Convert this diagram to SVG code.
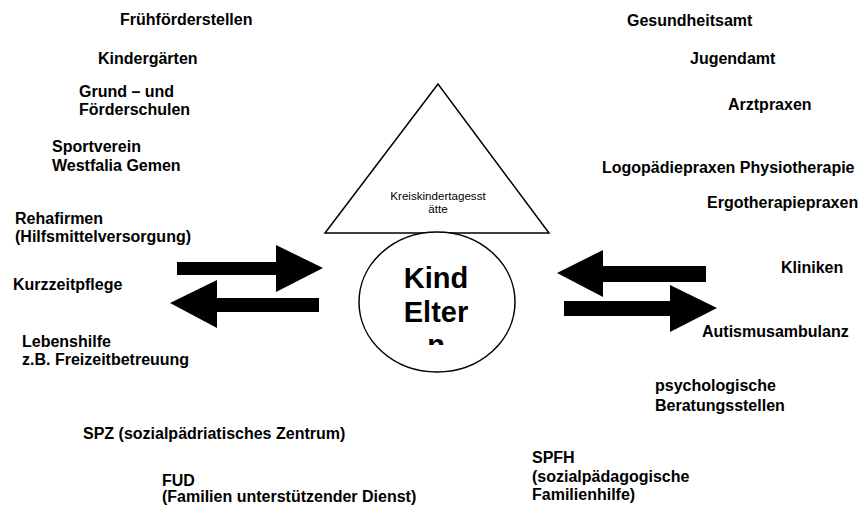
<svg xmlns="http://www.w3.org/2000/svg" width="858" height="509" viewBox="0 0 858 509">
<style>
.t{font-family:"Liberation Sans",Arial,sans-serif;font-weight:bold;font-size:16px;fill:#000}
.s{font-family:"Liberation Sans",Arial,sans-serif;font-size:11.6px;fill:#000}
.big{font-family:"Liberation Sans",Arial,sans-serif;font-weight:bold;font-size:29px;fill:#000}
.shape{fill:#fff;stroke:#000;stroke-width:1.5}
.arr{fill:#000;stroke:none}
</style>
<defs>
<clipPath id="cc"><rect x="360" y="230" width="160" height="115"/></clipPath>
</defs>
<rect width="858" height="509" fill="#fff"/>
<g id="kreiskita">
<polygon class="shape" points="438,84 325,233 549,233"/>
<text class="s" text-anchor="middle" x="438" y="199.5">Kreiskindertagesst</text>
<text class="s" text-anchor="middle" x="438" y="213">ätte</text>
</g>
<g id="kind-eltern">
<ellipse class="shape" cx="437" cy="302" rx="78" ry="70"/>
<g clip-path="url(#cc)">
<text class="big" text-anchor="middle" x="436" y="288.3">Kind</text>
<text class="big" text-anchor="middle" x="436" y="321.7">Elter</text>
<text class="big" text-anchor="middle" x="436" y="355">n</text>
</g>
</g>
<g id="connectors">
<polygon class="arr" points="177,262 276,262 276,245 323,268 276,292 276,275 177,275"/>
<polygon class="arr" points="319,298 217,298 217,280 170,303 217,328 217,312 319,312"/>
<polygon class="arr" points="706,266 603,266 603,250 557,273 603,297 603,282 706,282"/>
<polygon class="arr" points="564,301 670,301 670,285 717,308 670,332 670,316 564,316"/>
</g>
<g id="fruehfoerderstellen"><text class="t" x="120" y="25">Frühförderstellen</text></g>
<g id="kindergaerten"><text class="t" x="98" y="64">Kindergärten</text></g>
<g id="schulen"><text class="t" x="79" y="97">Grund – und</text><text class="t" x="79" y="115">Förderschulen</text></g>
<g id="sportverein"><text class="t" x="52" y="152">Sportverein</text><text class="t" x="52" y="171">Westfalia Gemen</text></g>
<g id="rehafirmen"><text class="t" x="15" y="224">Rehafirmen</text><text class="t" x="15" y="242">(Hilfsmittelversorgung)</text></g>
<g id="kurzzeitpflege"><text class="t" x="13" y="290">Kurzzeitpflege</text></g>
<g id="lebenshilfe"><text class="t" x="22" y="346.5">Lebenshilfe</text><text class="t" x="22" y="365">z.B. Freizeitbetreuung</text></g>
<g id="spz"><text class="t" x="83" y="439">SPZ (sozialpädriatisches Zentrum)</text></g>
<g id="fud"><text class="t" x="162" y="486">FUD</text><text class="t" x="162" y="502">(Familien unterstützender Dienst)</text></g>
<g id="gesundheitsamt"><text class="t" x="627" y="26">Gesundheitsamt</text></g>
<g id="jugendamt"><text class="t" x="690" y="64">Jugendamt</text></g>
<g id="arztpraxen"><text class="t" x="728" y="110">Arztpraxen</text></g>
<g id="logopaedie"><text class="t" x="602" y="173">Logopädiepraxen Physiotherapie</text></g>
<g id="ergotherapie"><text class="t" x="707" y="208">Ergotherapiepraxen</text></g>
<g id="kliniken"><text class="t" x="781" y="273">Kliniken</text></g>
<g id="autismusambulanz"><text class="t" x="702" y="337">Autismusambulanz</text></g>
<g id="beratungsstellen"><text class="t" x="655" y="391">psychologische</text><text class="t" x="655" y="411">Beratungsstellen</text></g>
<g id="spfh"><text class="t" x="532" y="463">SPFH</text><text class="t" x="532" y="482">(sozialpädagogische</text><text class="t" x="532" y="500">Familienhilfe)</text></g>
</svg>
